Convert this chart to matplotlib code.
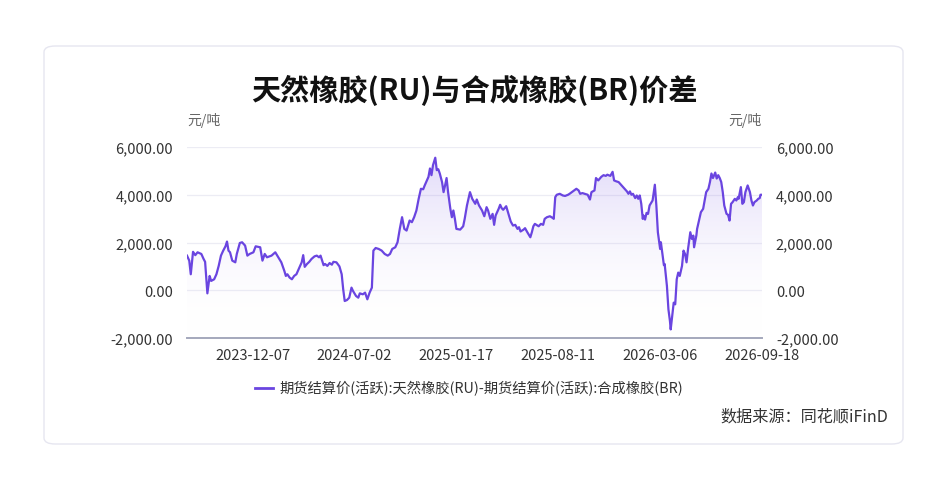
import matplotlib
matplotlib.use("Agg")
import matplotlib.pyplot as plt
import numpy as np
from matplotlib.patches import FancyBboxPatch, Polygon
from matplotlib.ticker import FuncFormatter

plt.rcParams['font.family'] = ['Noto Sans CJK SC', 'DejaVu Sans']

# trading-day index of each read point and the RU-BR spread (yuan/ton)
day_idx = [0, 3, 5, 8, 11, 14, 19, 22, 24, 27, 30, 32, 36, 39, 42, 45, 48, 51, 53, 55,
           57, 60, 64, 66, 70, 73, 77, 80, 83, 88, 91, 97, 100, 103, 106, 112, 117, 121, 125, 129,
           131, 133, 136, 139, 142, 145, 149, 152, 154, 156, 159, 162, 165, 169, 172, 175, 177, 181, 183, 186,
           189, 192, 194, 198, 202, 205, 207, 209, 212, 215, 218, 220, 224, 227, 229, 233, 236, 239, 242, 245,
           247, 250, 254, 258, 262, 266, 269, 272, 276, 279, 282, 285, 288, 291, 295, 298, 301, 304, 307, 310,
           313, 315, 318, 320, 322, 324, 326, 329, 331, 333, 335, 338, 340, 342, 344, 346, 349, 351, 353, 355,
           357, 362, 366, 368, 371, 373, 375, 378, 382, 384, 387, 391, 394, 397, 399, 402, 405, 407, 409, 413,
           415, 417, 419, 423, 426, 429, 432, 435, 438, 440, 442, 446, 448, 451, 455, 457, 459, 461, 466, 469,
           472, 474, 477, 481, 485, 486, 488, 490, 494, 498, 501, 505, 507, 510, 513, 516, 519, 521, 524, 527,
           531, 534, 536, 540, 542, 545, 549, 552, 555, 557, 561, 564, 566, 569, 572, 576, 580, 583, 585, 587,
           589, 591, 594, 596, 598, 600, 602, 604, 605, 607, 609, 611, 613, 617, 620, 622, 624, 627, 628, 630,
           632, 633, 636, 638, 640, 641, 644, 645, 647, 649, 651, 653, 656, 658, 660, 662, 664, 667, 669, 671,
           672, 675, 676, 679, 681, 684, 686, 688, 691, 693, 695, 697, 700, 702, 704, 706, 708, 710, 712, 715,
           717, 719, 721, 723, 726, 728, 730, 731, 734, 736, 738, 740, 743, 746, 748, 750, 752, 755, 757, 759,
           760, 762]
spread = [1450, 1240, 670, 1610, 1470, 1590, 1520, 1310, 1190, -130, 600, 390, 460, 670, 1020, 1450, 1660, 1840, 2040, 1660,
          1590, 1240, 1170, 1520, 1980, 2010, 1870, 1450, 1520, 1590, 1840, 1800, 1240, 1520, 1380, 1450, 1590, 1380, 1170, 810,
          600, 670, 530, 460, 600, 670, 950, 1170, 1470, 980, 1100, 1190, 1310, 1420, 1450, 1380, 1450, 1050, 1100, 1020,
          1140, 1070, 1190, 1170, 1000, 670, 40, -450, -410, -310, 110, -30, -240, -310, -130, -170, -100, -380, -100, 110,
          1660, 1770, 1730, 1660, 1520, 1450, 1520, 1730, 1800, 2010, 2570, 3060, 2570, 2500, 2920, 2850, 3060, 3340, 3830, 4250,
          4230, 4390, 4600, 4750, 5100, 4820, 5240, 5550, 5030, 5070, 4890, 4530, 4110, 4390, 4700, 4110, 3410, 3060, 3340, 2990,
          2570, 2540, 2680, 2990, 3550, 3830, 4110, 3830, 3620, 3800, 3550, 3340, 3100, 3480, 3340, 2990, 3200, 2740, 3130, 3410,
          3580, 3440, 3370, 3520, 3200, 2880, 2710, 2740, 2570, 2640, 2460, 2540, 2600, 2430, 2220, 2430, 2680, 2780, 2680, 2780,
          2740, 2990, 3060, 3100, 3020, 2990, 3900, 4000, 4040, 3970, 3950, 4000, 4040, 4110, 4180, 4250, 4180, 4040, 4070, 4040,
          4000, 3800, 4110, 4180, 4700, 4600, 4750, 4820, 4790, 4840, 4790, 4960, 4600, 4560, 4530, 4390, 4250, 4140, 4040, 4140,
          4000, 4040, 3860, 3970, 3830, 3970, 3620, 2990, 3130, 2960, 3240, 3200, 3550, 3760, 4420, 3550, 2430, 1730, 2010, 1520,
          1050, 1100, 180, -800, -1290, -1640, -800, -520, -590, 460, 740, 600, 1020, 1660, 1520, 1170, 1730, 2430, 2150, 2290,
          1800, 2290, 2570, 2990, 3270, 3410, 3760, 4110, 4250, 4530, 4890, 4700, 4930, 4680, 4820, 4700, 4530, 4110, 3550, 3200,
          3160, 2920, 3620, 3690, 3830, 3760, 3900, 3830, 4320, 3620, 3690, 4110, 4390, 4110, 3760, 3550, 3690, 3760, 3830, 3860,
          4000, 4000]

tick_idx = [87, 222, 357, 492, 627, 762]
tick_labels = ["2023-12-07", "2024-07-02", "2025-01-17", "2025-08-11", "2026-03-06", "2026-09-18"]
y_ticks = [-2000, 0, 2000, 4000, 6000]

line_color = "#6a45e0"
text_color = "#333333"

W, H = 949, 502
fig = plt.figure(figsize=(W / 100, H / 100), dpi=100)
fig.patch.set_facecolor("white")

# card
card = FancyBboxPatch((44 / W, 57 / H), 859 / W, 398 / H,
                      boxstyle="round,pad=0,rounding_size=0.012",
                      transform=fig.transFigure, facecolor="white",
                      edgecolor="#e6e6f0", linewidth=1.0, zorder=-5)
fig.patches.append(card)

ax = fig.add_axes([187 / W, 163 / H, 575 / W, 191 / H])
ax.set_facecolor("none")
ax.set_xlim(0, 762)
ax.set_ylim(-2000, 6000)

x = np.array(day_idx)
y = np.array(spread)

# gradient area under the curve
verts = [(x[0], -2000)] + list(zip(x, y)) + [(x[-1], -2000)]
poly = Polygon(verts, closed=True, facecolor="none", edgecolor="none")
ax.add_patch(poly)
grad = np.linspace(0, 1, 256).reshape(-1, 1)
cmap = matplotlib.colors.LinearSegmentedColormap.from_list(
    "g", [(1, 1, 1, 0), (0.42, 0.27, 0.88, 0.20)])
im = ax.imshow(grad, extent=[0, 762, -2000, 5600], origin="lower",
               aspect="auto", cmap=cmap, zorder=1)
im.set_clip_path(poly)

ax.plot(x, y, color=line_color, linewidth=1.6, zorder=3)

for yt in y_ticks[1:]:
    ax.axhline(yt, color="#ececf4", linewidth=0.9, zorder=0)

for s in ["top", "right", "left"]:
    ax.spines[s].set_visible(False)
ax.spines["bottom"].set_color("#a4a8bc")
ax.spines["bottom"].set_linewidth(1.4)

ax.set_yticks(y_ticks)
fmt = FuncFormatter(lambda v, p: f"{v:,.2f}")
ax.yaxis.set_major_formatter(fmt)
ax.tick_params(axis="y", length=0, pad=10, labelsize=10.5, labelcolor=text_color)
ax.set_xticks(tick_idx)
ax.set_xticklabels(tick_labels)
ax.tick_params(axis="x", length=0, pad=7, labelsize=10.5, labelcolor=text_color)

ax2 = ax.twinx()
ax2.set_ylim(-2000, 6000)
ax2.set_yticks(y_ticks)
ax2.yaxis.set_major_formatter(fmt)
ax2.tick_params(axis="y", length=0, pad=10, labelsize=10.5, labelcolor=text_color)
for s in ["top", "right", "left", "bottom"]:
    ax2.spines[s].set_visible(False)

fig.text(474 / W, 1 - 90 / H, "天然橡胶(RU)与合成橡胶(BR)价差", ha="center", va="center",
         fontsize=21, fontweight="bold", color="#111111")
fig.text(187 / W, 1 - 121 / H, "元/吨", ha="left", va="center", fontsize=10, color="#666666")
fig.text(762 / W, 1 - 121 / H, "元/吨", ha="right", va="center", fontsize=10, color="#666666")

# legend
fig.lines.append(plt.Line2D([255 / W, 273 / W], [1 - 389 / H, 1 - 389 / H],
                            transform=fig.transFigure, color=line_color, linewidth=2))
fig.text(279 / W, 1 - 389 / H, "期货结算价(活跃):天然橡胶(RU)-期货结算价(活跃):合成橡胶(BR)",
         ha="left", va="center", fontsize=10.3, color=text_color)
fig.text(888 / W, 1 - 417 / H, "数据来源：同花顺iFinD", ha="right", va="center",
         fontsize=11.6, color=text_color)

fig.savefig("out.png", dpi=100)
